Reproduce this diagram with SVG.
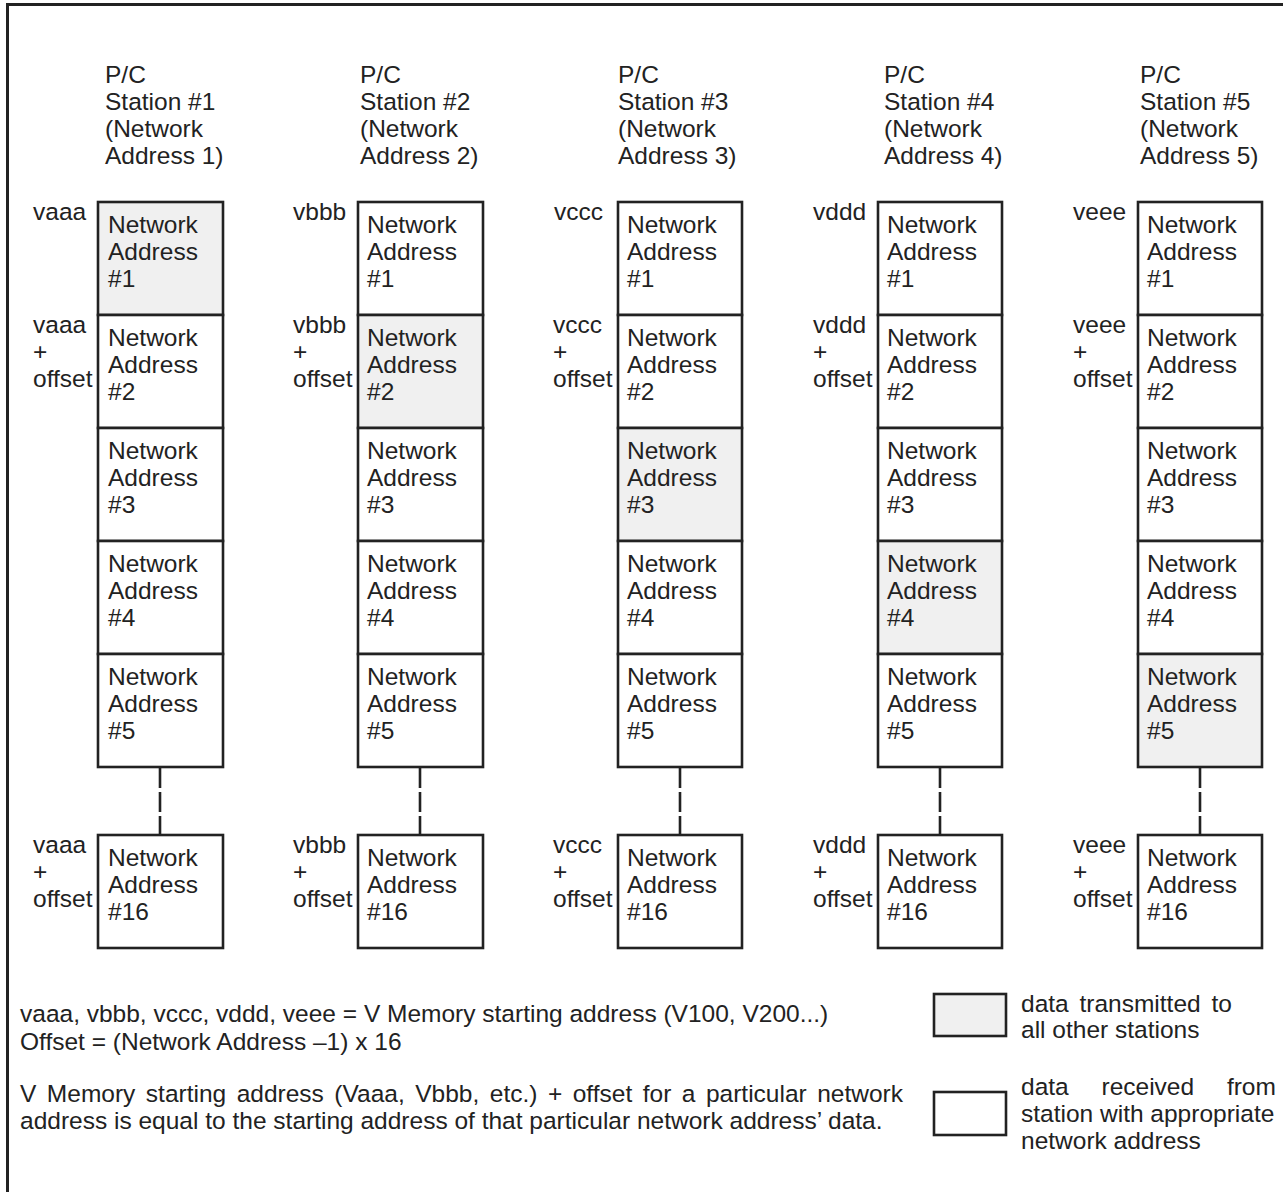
<svg xmlns="http://www.w3.org/2000/svg" width="1283" height="1192" viewBox="0 0 1283 1192">
<defs>
<style>
text{font-family:"Liberation Sans",Arial,sans-serif;font-size:24.5px;fill:#222}
.cell{fill:#fff;stroke:#222;stroke-width:2.6}
.tx{fill:#f0f0f0}
.dash{stroke:#222;stroke-width:2.6;stroke-dasharray:20 4;fill:none}
.frame{fill:none;stroke:#222;stroke-width:3}
</style>
</defs>
<rect width="1283" height="1192" fill="#fff"/>
<rect class="frame" x="7.5" y="4.5" width="1300" height="1200"/>

<g id="connectors">
<line class="dash" x1="160" y1="768" x2="160" y2="835"/>
<line class="dash" x1="420" y1="768" x2="420" y2="835"/>
<line class="dash" x1="680" y1="768" x2="680" y2="835"/>
<line class="dash" x1="940" y1="768" x2="940" y2="835"/>
<line class="dash" x1="1200" y1="768" x2="1200" y2="835"/>
</g>

<!-- Station 1 -->
<g id="station1">
<text x="105" y="83">P/C</text><text x="105" y="110">Station #1</text><text x="105" y="137">(Network</text><text x="105" y="164">Address 1)</text>
<text x="33" y="220">vaaa</text>
<text x="33" y="333">vaaa</text><text x="33" y="360">+</text><text x="33" y="387">offset</text>
<text x="33" y="853">vaaa</text><text x="33" y="880">+</text><text x="33" y="907">offset</text>
<g id="s1-na1"><rect class="cell tx" x="98" y="202" width="125" height="113"/><text x="108" y="233">Network</text><text x="108" y="260">Address</text><text x="108" y="287">#1</text></g>
<g id="s1-na2"><rect class="cell" x="98" y="315" width="125" height="113"/><text x="108" y="346">Network</text><text x="108" y="373">Address</text><text x="108" y="400">#2</text></g>
<g id="s1-na3"><rect class="cell" x="98" y="428" width="125" height="113"/><text x="108" y="459">Network</text><text x="108" y="486">Address</text><text x="108" y="513">#3</text></g>
<g id="s1-na4"><rect class="cell" x="98" y="541" width="125" height="113"/><text x="108" y="572">Network</text><text x="108" y="599">Address</text><text x="108" y="626">#4</text></g>
<g id="s1-na5"><rect class="cell" x="98" y="654" width="125" height="113"/><text x="108" y="685">Network</text><text x="108" y="712">Address</text><text x="108" y="739">#5</text></g>
<g id="s1-na16"><rect class="cell" x="98" y="835" width="125" height="113"/><text x="108" y="866">Network</text><text x="108" y="893">Address</text><text x="108" y="920">#16</text></g>
</g>

<!-- Station 2 -->
<g id="station2">
<text x="360" y="83">P/C</text><text x="360" y="110">Station #2</text><text x="360" y="137">(Network</text><text x="360" y="164">Address 2)</text>
<text x="293" y="220">vbbb</text>
<text x="293" y="333">vbbb</text><text x="293" y="360">+</text><text x="293" y="387">offset</text>
<text x="293" y="853">vbbb</text><text x="293" y="880">+</text><text x="293" y="907">offset</text>
<g id="s2-na1"><rect class="cell" x="358" y="202" width="125" height="113"/><text x="367" y="233">Network</text><text x="367" y="260">Address</text><text x="367" y="287">#1</text></g>
<g id="s2-na2"><rect class="cell tx" x="358" y="315" width="125" height="113"/><text x="367" y="346">Network</text><text x="367" y="373">Address</text><text x="367" y="400">#2</text></g>
<g id="s2-na3"><rect class="cell" x="358" y="428" width="125" height="113"/><text x="367" y="459">Network</text><text x="367" y="486">Address</text><text x="367" y="513">#3</text></g>
<g id="s2-na4"><rect class="cell" x="358" y="541" width="125" height="113"/><text x="367" y="572">Network</text><text x="367" y="599">Address</text><text x="367" y="626">#4</text></g>
<g id="s2-na5"><rect class="cell" x="358" y="654" width="125" height="113"/><text x="367" y="685">Network</text><text x="367" y="712">Address</text><text x="367" y="739">#5</text></g>
<g id="s2-na16"><rect class="cell" x="358" y="835" width="125" height="113"/><text x="367" y="866">Network</text><text x="367" y="893">Address</text><text x="367" y="920">#16</text></g>
</g>

<!-- Station 3 -->
<g id="station3">
<text x="618" y="83">P/C</text><text x="618" y="110">Station #3</text><text x="618" y="137">(Network</text><text x="618" y="164">Address 3)</text>
<text x="554" y="220">vccc</text>
<text x="553" y="333">vccc</text><text x="553" y="360">+</text><text x="553" y="387">offset</text>
<text x="553" y="853">vccc</text><text x="553" y="880">+</text><text x="553" y="907">offset</text>
<g id="s3-na1"><rect class="cell" x="618" y="202" width="124" height="113"/><text x="627" y="233">Network</text><text x="627" y="260">Address</text><text x="627" y="287">#1</text></g>
<g id="s3-na2"><rect class="cell" x="618" y="315" width="124" height="113"/><text x="627" y="346">Network</text><text x="627" y="373">Address</text><text x="627" y="400">#2</text></g>
<g id="s3-na3"><rect class="cell tx" x="618" y="428" width="124" height="113"/><text x="627" y="459">Network</text><text x="627" y="486">Address</text><text x="627" y="513">#3</text></g>
<g id="s3-na4"><rect class="cell" x="618" y="541" width="124" height="113"/><text x="627" y="572">Network</text><text x="627" y="599">Address</text><text x="627" y="626">#4</text></g>
<g id="s3-na5"><rect class="cell" x="618" y="654" width="124" height="113"/><text x="627" y="685">Network</text><text x="627" y="712">Address</text><text x="627" y="739">#5</text></g>
<g id="s3-na16"><rect class="cell" x="618" y="835" width="124" height="113"/><text x="627" y="866">Network</text><text x="627" y="893">Address</text><text x="627" y="920">#16</text></g>
</g>

<!-- Station 4 -->
<g id="station4">
<text x="884" y="83">P/C</text><text x="884" y="110">Station #4</text><text x="884" y="137">(Network</text><text x="884" y="164">Address 4)</text>
<text x="813" y="220">vddd</text>
<text x="813" y="333">vddd</text><text x="813" y="360">+</text><text x="813" y="387">offset</text>
<text x="813" y="853">vddd</text><text x="813" y="880">+</text><text x="813" y="907">offset</text>
<g id="s4-na1"><rect class="cell" x="878" y="202" width="124" height="113"/><text x="887" y="233">Network</text><text x="887" y="260">Address</text><text x="887" y="287">#1</text></g>
<g id="s4-na2"><rect class="cell" x="878" y="315" width="124" height="113"/><text x="887" y="346">Network</text><text x="887" y="373">Address</text><text x="887" y="400">#2</text></g>
<g id="s4-na3"><rect class="cell" x="878" y="428" width="124" height="113"/><text x="887" y="459">Network</text><text x="887" y="486">Address</text><text x="887" y="513">#3</text></g>
<g id="s4-na4"><rect class="cell tx" x="878" y="541" width="124" height="113"/><text x="887" y="572">Network</text><text x="887" y="599">Address</text><text x="887" y="626">#4</text></g>
<g id="s4-na5"><rect class="cell" x="878" y="654" width="124" height="113"/><text x="887" y="685">Network</text><text x="887" y="712">Address</text><text x="887" y="739">#5</text></g>
<g id="s4-na16"><rect class="cell" x="878" y="835" width="124" height="113"/><text x="887" y="866">Network</text><text x="887" y="893">Address</text><text x="887" y="920">#16</text></g>
</g>

<!-- Station 5 -->
<g id="station5">
<text x="1140" y="83">P/C</text><text x="1140" y="110">Station #5</text><text x="1140" y="137">(Network</text><text x="1140" y="164">Address 5)</text>
<text x="1073" y="220">veee</text>
<text x="1073" y="333">veee</text><text x="1073" y="360">+</text><text x="1073" y="387">offset</text>
<text x="1073" y="853">veee</text><text x="1073" y="880">+</text><text x="1073" y="907">offset</text>
<g id="s5-na1"><rect class="cell" x="1138" y="202" width="124" height="113"/><text x="1147" y="233">Network</text><text x="1147" y="260">Address</text><text x="1147" y="287">#1</text></g>
<g id="s5-na2"><rect class="cell" x="1138" y="315" width="124" height="113"/><text x="1147" y="346">Network</text><text x="1147" y="373">Address</text><text x="1147" y="400">#2</text></g>
<g id="s5-na3"><rect class="cell" x="1138" y="428" width="124" height="113"/><text x="1147" y="459">Network</text><text x="1147" y="486">Address</text><text x="1147" y="513">#3</text></g>
<g id="s5-na4"><rect class="cell" x="1138" y="541" width="124" height="113"/><text x="1147" y="572">Network</text><text x="1147" y="599">Address</text><text x="1147" y="626">#4</text></g>
<g id="s5-na5"><rect class="cell tx" x="1138" y="654" width="124" height="113"/><text x="1147" y="685">Network</text><text x="1147" y="712">Address</text><text x="1147" y="739">#5</text></g>
<g id="s5-na16"><rect class="cell" x="1138" y="835" width="124" height="113"/><text x="1147" y="866">Network</text><text x="1147" y="893">Address</text><text x="1147" y="920">#16</text></g>
</g>

<g id="notes">
<text x="20" y="1022">vaaa, vbbb, vccc, vddd, veee = V Memory starting address (V100, V200...)</text>
<text x="20" y="1050">Offset = (Network Address –1) x 16</text>
<text x="20" y="1102" word-spacing="3.7">V Memory starting address (Vaaa, Vbbb, etc.) + offset for a particular network</text>
<text x="20" y="1129">address is equal to the starting address of that particular network address’ data.</text>
</g>

<g id="legend">
<rect class="cell tx" x="934" y="994" width="72" height="42"/>
<text x="1021" y="1012" word-spacing="4">data transmitted to</text>
<text x="1021" y="1038">all other stations</text>
<rect class="cell" x="934" y="1092" width="72" height="43"/>
<text x="1021" y="1095" word-spacing="26">data received from</text>
<text x="1021" y="1122">station with appropriate</text>
<text x="1021" y="1149">network address</text>
</g>
</svg>
